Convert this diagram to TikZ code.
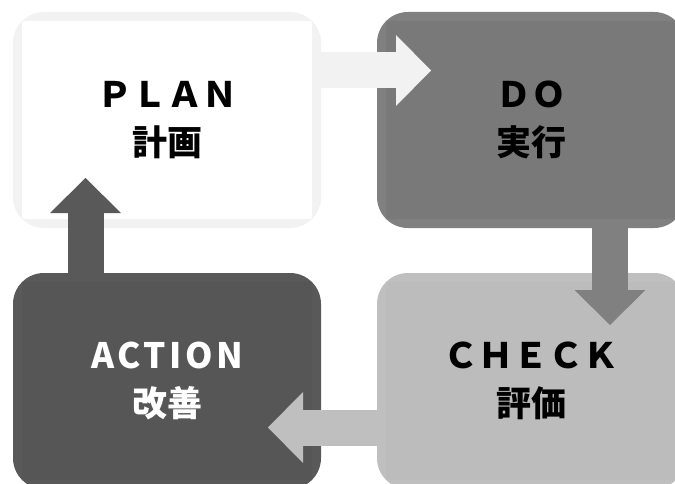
\documentclass[tikz,border=0pt]{standalone}
\usepackage{fontspec}
\newfontfamily\jpfont{Noto Sans CJK JP}
\usetikzlibrary{arrows.meta}
\definecolor{PlanEdge}{RGB}{242,242,242}
\definecolor{PlanFill}{RGB}{255,255,255}
\definecolor{DoEdge}{RGB}{128,128,128}
\definecolor{DoFill}{RGB}{121,121,121}
\definecolor{CheckEdge}{RGB}{191,191,191}
\definecolor{CheckFill}{RGB}{188,188,188}
\definecolor{ActEdge}{RGB}{89,89,89}
\definecolor{ActFill}{RGB}{86,86,86}
\tikzset{
  phase/.style 2 args={draw=none,fill=#1,rounded corners=31pt,inner sep=0pt,
    minimum width=308pt,minimum height=216pt,align=center,
    font=\jpfont\bfseries\fontsize{35pt}{48pt}\selectfont,
    path picture={\fill[#2,rounded corners=2pt]
      ([shift={(9pt,-9pt)}]path picture bounding box.north west) rectangle
      ([shift={(-9pt,9pt)}]path picture bounding box.south east);}},
  flow/.style={draw=#1,line width=36pt,
    -{Triangle[length=35pt,width=71pt,line width=0pt]}},
}

\begin{document}
\begin{tikzpicture}[x=1pt,y=-1pt]
\useasboundingbox (0,0) rectangle (675,484);
\clip (0,0) rectangle (675,484);
\fill[white] (0,0) rectangle (675,484);
\node[phase={PlanEdge}{PlanFill}] (plan) at (167,120) {ＰＬＡＮ\\計画};
\node[phase={DoEdge}{DoFill}] (do) at (531,120) {ＤＯ\\実行};
\node[phase={CheckEdge}{CheckFill}] (chk) at (531,381) {ＣＨＥＣＫ\\評価};
\node[phase={ActEdge}{ActFill},text=white] (act) at (167,381)
  {{\addfontfeature{LetterSpace=10}ACTION}\\改善};
\coordinate (p2d) at (431,70.5);
\coordinate (d2c) at (610,325);
\coordinate (c2a) at (268,427.5);
\coordinate (a2p) at (85.5,178);
\draw[flow=PlanEdge] (plan.east |- p2d) -- (p2d);
\draw[flow=DoEdge] (do.south -| d2c) -- (d2c);
\draw[flow=CheckEdge] (chk.west |- c2a) -- (c2a);
\draw[flow=ActEdge] (act.north -| a2p) -- (a2p);
\end{tikzpicture}
\end{document}
